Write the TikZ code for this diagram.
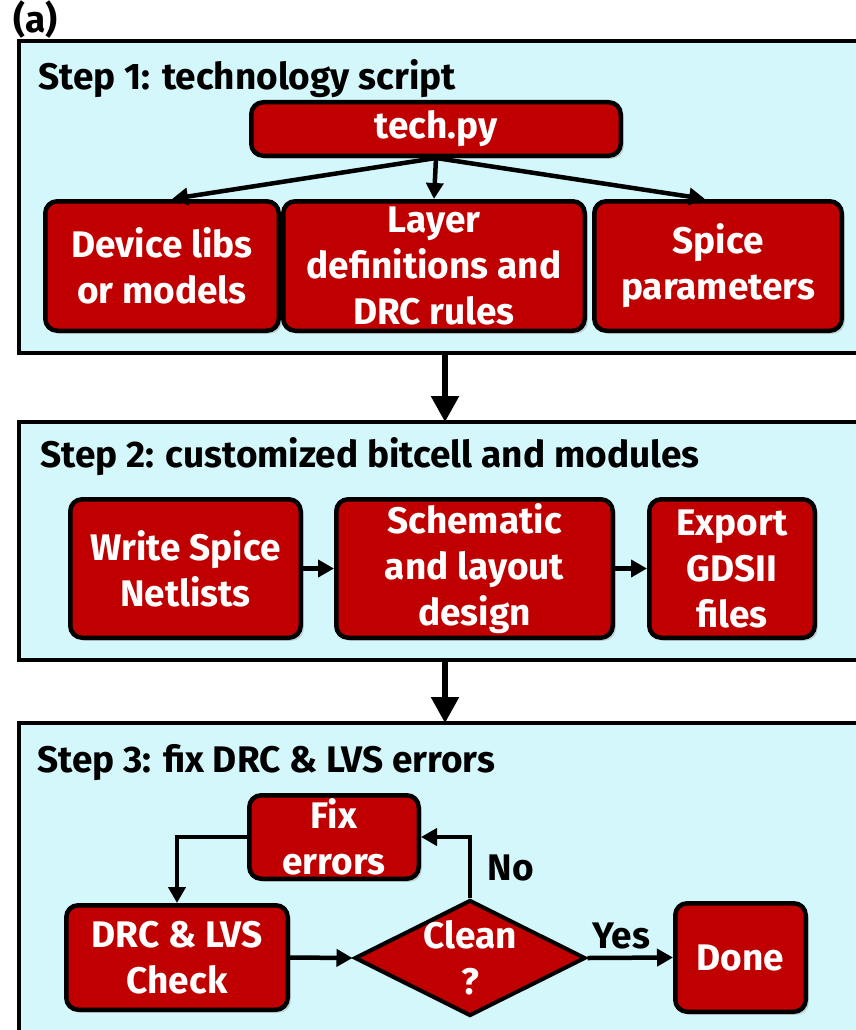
\documentclass[tikz,border=0pt]{standalone}
\usepackage{fontspec}
\setmainfont{Fira Sans}
\usetikzlibrary{arrows.meta,shapes.geometric,shadows}
\definecolor{panelcyan}{RGB}{212,247,252}
\definecolor{boxred}{RGB}{192,0,0}
\begin{document}
\begin{tikzpicture}[x=1pt,y=-1pt,
  bigfont/.style={font=\fontsize{37}{46}\selectfont\bfseries},
  panel/.style={fill=panelcyan,draw=black,line width=4pt},
  steptitle/.style={bigfont,anchor=base west,inner sep=0pt},
  redbox/.style={draw=black,fill=boxred,line width=4.5pt,rounded corners=12pt,
    text=white,bigfont,align=center,inner sep=0pt,
    drop shadow={shadow xshift=3pt,shadow yshift=-3pt,opacity=0.3}},
  decision/.style={diamond,draw=black,fill=boxred,line width=4pt,inner sep=0pt},
  whitetext/.style={text=white,bigfont,align=center,inner sep=0pt},
  flow/.style={line width=4.5pt,-{Triangle[length=16pt,width=17pt]}},
  bigflow/.style={line width=5.5pt,-{Triangle[length=26pt,width=27pt]}},
  tag/.style={bigfont,inner sep=0pt}]
\useasboundingbox (0,0) rectangle (856,1030);
\clip (0,0) rectangle (856,1030);

% panel label
\node[bigfont,anchor=base west,inner sep=0pt] (lbl) at (13,33) {(a)};

% step 1: technology script
\draw[panel] (19,41) rectangle (880,353);
\node[steptitle] (t1) at (38,90) {Step 1: technology script};
\node[redbox,minimum width=369.5pt,minimum height=53.5pt] (tech) at (436,129) {tech.py};
\node[redbox,minimum width=233.5pt,minimum height=129.5pt] (dev) at (162,266) {Device libs\\or models};
\node[redbox,minimum width=301.5pt,minimum height=129.5pt] (layer) at (434,266) {Layer\\definitions and\\DRC rules};
\node[redbox,minimum width=247.5pt,minimum height=129.5pt] (spice) at (718,266) {Spice\\parameters};
\draw[flow] (tech.south) -- ([xshift=10pt]dev.north);
\draw[flow] (tech.south) -- (layer.north);
\draw[flow] (tech.south) -- ([xshift=-13pt]spice.north);

% step 2: customized bitcell and modules
\coordinate (p1b) at (445,353);
\coordinate (p2t) at (445,422);
\draw[bigflow] (p1b) -- (p2t);
\draw[panel] (19,422) rectangle (880,660);
\node[steptitle] (t2) at (40,467) {Step 2: customized bitcell and modules};
\node[redbox,minimum width=230.5pt,minimum height=138.5pt] (write) at (185.5,568.5) {Write Spice\\Netlists};
\node[redbox,minimum width=276.5pt,minimum height=138.5pt] (schem) at (474.5,568.5) {Schematic\\and layout\\design};
\node[redbox,minimum width=165.5pt,minimum height=138.5pt] (export) at (732,568.5) {Export\\GDSII\\files};
\draw[flow] (write.east) -- (schem.west);
\draw[flow] (schem.east) -- (export.west);

% step 3: fix DRC & LVS errors
\coordinate (p2b) at (445,660);
\coordinate (p3t) at (445,723);
\draw[bigflow] (p2b) -- (p3t);
\draw[panel] (19,723) rectangle (880,1070);
\node[steptitle] (t3) at (37,772) {Step 3: fix DRC \& LVS errors};
\node[redbox,minimum width=169.5pt,minimum height=83.5pt] (fix) at (334,837) {Fix\\errors};
\node[redbox,minimum width=221.5pt,minimum height=104.5pt] (drc) at (177,957.5) {DRC \& LVS\\Check};
\node[decision,minimum width=231pt,minimum height=116pt] (clean) at (470,958) {};
\node[whitetext] (cleantext) at (clean.center) {Clean\\?};
\node[redbox,minimum width=130.5pt,minimum height=108.5pt] (done) at (740.5,957.5) {Done};
\draw[flow] (drc.east) -- (clean.west);
\draw[flow] (clean.east) -- (done.west);
\draw[flow] (clean.north) |- (fix.east);
\draw[flow] (fix.west) -| (drc.north);
\node[tag] (no) at (511,868) {No};
\node[tag] (yes) at (621,936) {Yes};
\end{tikzpicture}
\end{document}
